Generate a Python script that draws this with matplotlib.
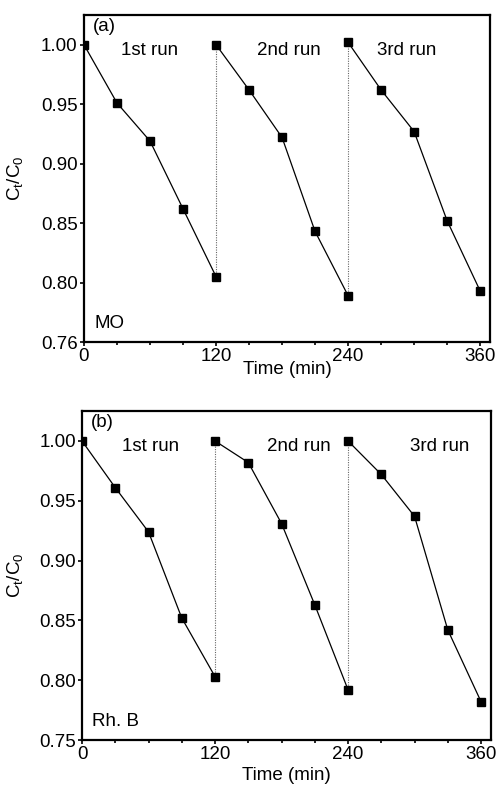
import numpy as np
import matplotlib
matplotlib.use("Agg")
import matplotlib.pyplot as plt
from matplotlib.ticker import MultipleLocator

plt.rcParams['font.family'] = ['Liberation Sans', 'DejaVu Sans']
plt.rcParams['mathtext.default'] = 'regular'

# time points of each run (min)
t_run1 = [0, 30, 60, 90, 120]
t_run2 = [120, 150, 180, 210, 240]
t_run3 = [240, 270, 300, 330, 360]

# (a) MO
mo_run1 = [1.000, 0.951, 0.919, 0.862, 0.805]
mo_run2 = [1.000, 0.962, 0.922, 0.843, 0.789]
mo_run3 = [1.002, 0.962, 0.927, 0.852, 0.793]

# (b) Rh. B
rhb_run1 = [1.000, 0.961, 0.924, 0.852, 0.803]
rhb_run2 = [1.000, 0.982, 0.931, 0.863, 0.792]
rhb_run3 = [1.000, 0.972, 0.937, 0.842, 0.782]

x_ticks = [0, 120, 240, 360]
mo_yticks = [0.75, 0.80, 0.85, 0.90, 0.95, 1.00]
mo_ylabels = ["0.76", "0.80", "0.85", "0.90", "0.95", "1.00"]
rhb_yticks = [0.75, 0.80, 0.85, 0.90, 0.95, 1.00]
rhb_ylabels = ["0.75", "0.80", "0.85", "0.90", "0.95", "1.00"]

fig = plt.figure(figsize=(4.97, 7.89), dpi=100)
ax_a = fig.add_axes([0.169, 0.5665, 0.817, 0.4145])
ax_b = fig.add_axes([0.165, 0.0621, 0.823, 0.4169])

FS = 13.5


def draw_panel(ax, runs, yticks, ylabels, tag, dye, run_text_x, ylab_x, xlab_y):
    times = [t_run1, t_run2, t_run3]
    for t, c in zip(times, runs):
        ax.plot(t, c, '-', color='black', lw=0.9, marker='s', ms=5.2,
                mfc='black', mec='black', zorder=3)
    # dotted separators between runs
    for i in range(2):
        ax.plot([times[i][-1], times[i][-1]], [runs[i][-1], runs[i + 1][0]],
                linestyle=(0, (1, 1.2)), color='#666666', lw=0.8, zorder=1)

    ax.set_xlim(0, 369)
    ax.set_ylim(0.75, 1.025)
    ax.set_xticks(x_ticks)
    ax.xaxis.set_minor_locator(MultipleLocator(30))
    ax.set_yticks(yticks)
    ax.set_yticklabels(ylabels)
    ax.tick_params(which='major', direction='out', length=3, width=1.2,
                   labelsize=FS, pad=1.5)
    ax.tick_params(which='minor', direction='out', length=2, width=1.2)
    for s in ax.spines.values():
        s.set_linewidth(1.6)

    ax.set_xlabel("Time (min)", fontsize=FS)
    ax.xaxis.set_label_coords(0.5, xlab_y)
    ax.set_ylabel(r"C$_t$/C$_0$", fontsize=FS)
    ax.yaxis.set_label_coords(ylab_x, 0.5)

    ax.text(0.022, 0.99, tag, transform=ax.transAxes, fontsize=FS,
            va='top', ha='left')
    for x, txt in zip(run_text_x, ["1st run", "2nd run", "3rd run"]):
        ax.text(x, 0.995, txt, fontsize=FS, ha='left', va='center')
    ax.text(0.025, 0.03, dye, transform=ax.transAxes, fontsize=FS,
            va='bottom', ha='left')


draw_panel(ax_a, [mo_run1, mo_run2, mo_run3], mo_yticks, mo_ylabels,
           "(a)", "MO", [34, 157, 266], -0.145, -0.058)
draw_panel(ax_b, [rhb_run1, rhb_run2, rhb_run3], rhb_yticks, rhb_ylabels,
           "(b)", "Rh. B", [36, 167, 296], -0.139, -0.082)

fig.savefig("out.png", dpi=100)
